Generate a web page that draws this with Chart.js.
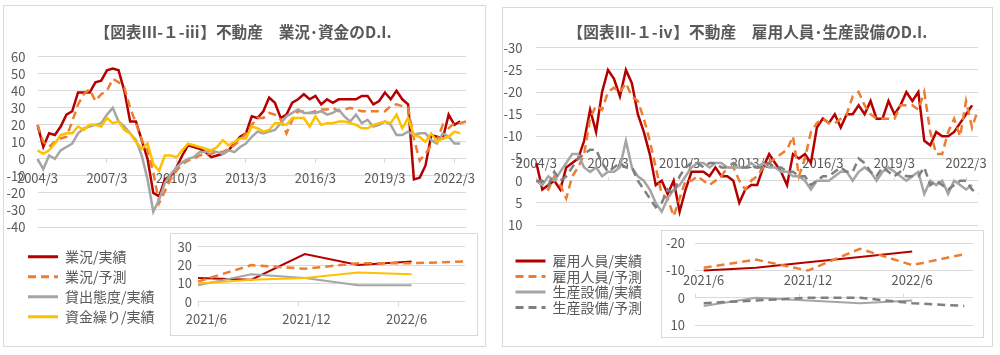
<!DOCTYPE html>
<html>
<head>
<meta charset="utf-8">
<script src="https://cdn.jsdelivr.net/npm/chart.js@4/dist/chart.umd.min.js"></script>
<style>
  html,body{margin:0;padding:0;background:#fff;}
  body{width:1000px;height:355px;position:relative;overflow:hidden;}
  .panel{position:absolute;border:1px solid #d9d9d9;background:#fff;box-sizing:border-box;}
  .frame{position:absolute;border:1px solid #d9d9d9;background:#fff;box-sizing:border-box;z-index:2;}
  canvas{position:absolute;display:block;}
  .main{z-index:1;}
  .inset{z-index:3;}
</style>
</head>
<body>
<div class="panel" style="left:3px;top:5px;width:483px;height:342px;"></div>
<div class="panel" style="left:502px;top:7px;width:491px;height:340px;"></div>

<canvas id="mainL" class="main" width="486" height="248" style="left:0;top:0;width:486px;height:248px;"></canvas>
<canvas id="mainR" class="main" width="495" height="248" style="left:500px;top:0;width:495px;height:248px;"></canvas>

<div class="frame" style="left:170px;top:233px;width:308px;height:103px;"></div>
<div class="frame" style="left:661px;top:230px;width:323px;height:108px;"></div>

<canvas id="insetL" class="inset" width="456" height="103" style="left:22px;top:233px;width:456px;height:103px;"></canvas>
<canvas id="insetR" class="inset" width="470" height="118" style="left:514px;top:225px;width:470px;height:118px;"></canvas>

<script>
// ---------- categories ----------
const quarters = [
  '2004/3','2004/6','2004/9','2004/12','2005/3','2005/6','2005/9','2005/12',
  '2006/3','2006/6','2006/9','2006/12','2007/3','2007/6','2007/9','2007/12',
  '2008/3','2008/6','2008/9','2008/12','2009/3','2009/6','2009/9','2009/12',
  '2010/3','2010/6','2010/9','2010/12','2011/3','2011/6','2011/9','2011/12',
  '2012/3','2012/6','2012/9','2012/12','2013/3','2013/6','2013/9','2013/12',
  '2014/3','2014/6','2014/9','2014/12','2015/3','2015/6','2015/9','2015/12',
  '2016/3','2016/6','2016/9','2016/12','2017/3','2017/6','2017/9','2017/12',
  '2018/3','2018/6','2018/9','2018/12','2019/3','2019/6','2019/9','2019/12',
  '2020/3','2020/6','2020/9','2020/12','2021/3','2021/6','2021/9','2021/12',
  '2022/3','2022/6','2022/9'
];
const insetMonths = ['2021/6','2021/7','2021/8','2021/9','2021/10','2021/11','2021/12',
  '2022/1','2022/2','2022/3','2022/4','2022/5','2022/6','2022/7','2022/8','2022/9'];
const insetQuarters = ['2021/6','2021/9','2021/12','2022/3','2022/6','2022/9'];

// ---------- left chart: 業況・資金 ----------
const gyokyoJisseki = [
  20, 7, 15, 14, 19, 26, 28, 39, 39, 39,
  45, 46, 52, 53, 52, 40, 22, 22, 11, 0,
  -20, -22, -12, -10, -5, 2, 8, 7, 6, 4,
  1, 2, 3, 5, 9, 13, 15, 25, 24, 28,
  36, 33, 24, 26, 33, 35, 38, 35, 37, 32,
  35, 33, 35, 35, 35, 35, 37, 37, 32, 34,
  39, 35, 40, 35, 32, -12, -11, -4, 14, 13,
  12, 26, 20, 22
];
const gyokyoYosoku = [
  20, 10, 7, 10, 12, 13, 22, 32, 38, 41,
  34, 38, 40, 47, 45, 42, 30, 21, 11, 5,
  -8, -26, -19, -12, -7, -3, -1, 0, 2, 3,
  3, 4, 4, 6, 8, 11, 15, 20, 24, 24,
  27, 26, 23, 15, 23, 28, 28, 27, 28, 29,
  29, 30, 28, 29, 30, 29, 28, 28, 28, 28,
  28, 31, 32, 31, 30, 12, -1, 3, 8, 11,
  20, 18, 21, 21, 22
];
const kashidashi = [
  0, -6, 2, 0, 5, 7, 9, 15, 18, 19,
  20, 21, 26, 30, 22, 19, 15, 11, 2, -12,
  -31, -24, -14, -9, -5, -2, 0, 1, 4, 4,
  5, 4, 3, 5, 4, 7, 9, 13, 16, 15,
  16, 17, 21, 25, 27, 29, 27, 27, 27, 28,
  26, 27, 29, 25, 22, 26, 21, 23, 19, 20,
  22, 20, 14, 14, 16, 14, 15, 15, 11, 9,
  15, 13, 9, 9
];
const shikinguri = [
  5, 3, 5, 9, 14, 15, 15, 19, 17, 20,
  20, 19, 24, 21, 22, 17, 15, 10, 6, 9,
  -3, -7, 2, 2, 1, 5, 9, 8, 7, 6,
  5, 7, 11, 8, 10, 12, 12, 19, 18, 16,
  17, 21, 21, 20, 24, 24, 24, 19, 25, 20,
  21, 21, 22, 22, 21, 20, 18, 18, 20, 21,
  22, 21, 26, 18, 24, 14, 13, 10, 15, 10,
  12, 13, 16, 15
];
const insetGyokyoJisseki = [13, 12, 26, 20, 22];
const insetGyokyoYosoku  = [11, 20, 18, 21, 21, 22];
const insetKashidashi    = [9, 15, 13, 9, 9];
const insetShikinguri    = [10, 12, 13, 16, 15];

// ---------- right chart: 雇用人員・生産設備 ----------
const koyoJisseki = [
  -4, 2, 1, 0, 2, -3, -4, -5, -9, -16,
  -11, -20, -25, -23, -19, -25, -22, -15, -11, -6,
  1, 0, 3, 0, 7, 2, -2, -2, -2, -1,
  -3, -1, -1, 0, 5, 2, 1, 1, -3, -6,
  -4, -2, 1, -6, -5, -6, -4, -12, -14, -13,
  -15, -12, -15, -15, -17, -15, -18, -14, -14, -18,
  -15, -17, -20, -18, -20, -9, -8, -11, -10, -10,
  -11, -13, -15, -17
];
const koyoYosoku = [
  0, 1, 2, -1, 1, 4, -1, -3, -6, -14,
  -17, -16, -20, -21, -20, -22, -19, -18, -14, -9,
  -3, 3, 4, 8, 4, 0, 0, -1, 0, 1,
  0, -1, -3, -3, 0, 2, 0, -1, -3, -4,
  -5, -6, -7, -10, -1, -5, -11, -13, -14, -13,
  -13, -14, -15, -19, -20, -17, -15, -14, -14, -14,
  -14, -17, -17, -17, -16, -20, -11, -6, -6, -11,
  -14, -10, -18, -12, -16
];
const setsubiJisseki = [
  0, 1, -1, 0, -2, -4, -6, -6, -3, -2,
  -3, -1, -2, -2, -3, -9, -3, -1, 0, 2,
  5, 7, 4, 2, 1, -1, -3, -4, -4, -3,
  -4, -4, -3, -3, -3, -3, -4, -3, -4, -3,
  -3, -2, -2, -1, -1, 0, 2, 0, 0, 0,
  -1, -2, -2, 0, -2, -3, -2, 0, -2, -3,
  -2, -1, 0, -1, -2, 3, 0, 1, 0, 3,
  0, 1, 2, 1
];
const setsubiYosoku = [
  0, 0, 1, -2, 0, -1, -3, -5, -6, -7,
  -7, -4, -2, -3, -4, -3, -3, 0, 2, 4,
  6, 5, 2, 3, -1, -3, -4, -4, -3, -4,
  -4, -3, -3, -4, -3, -3, -3, -3, -3, -4,
  -3, -3, -2, -2, -1, -1, 1, 0, -1, -1,
  -2, -3, -2, -2, -5, -4, -2, -1, -3, -2,
  -1, -2, -1, -1, -1, -3, 1, 0, 1, 2,
  1, 0, 0, 2, 3
];
const insetKoyoJisseki    = [-10, -11, -13, -15, -17];
const insetKoyoYosoku     = [-11, -14, -10, -18, -12, -16];
const insetSetsubiJisseki = [3, 0, 1, 2, 1];
const insetSetsubiYosoku  = [2, 1, 0, 0, 2, 3];

// ---------- styling ----------
Chart.defaults.font.family = "'Noto Sans CJK JP','Noto Sans',sans-serif";
Chart.defaults.font.size = 13;
Chart.defaults.color = '#595959';
const GRID = '#d9d9d9';
const NONE = 'rgba(0,0,0,0)';
const RED = '#b50000', ORANGE = '#ed7d31', GRAY = '#a5a5a5', GOLD = '#ffc000', DGRAY = '#7f7f7f';
const DASH = [8, 5];

function line(label, data, color, dashed, width, order) {
  return {
    label, data, borderColor: color, backgroundColor: color,
    borderDash: dashed ? DASH : [], borderWidth: width,
    pointRadius: 0, pointHoverRadius: 0, tension: 0, fill: false,
    spanGaps: true, order
  };
}
function pts(values) {
  return values.map((v, i) => ({ x: insetQuarters[i], y: v }));
}
const baseOpts = { responsive: false, animation: false, devicePixelRatio: 1, events: [] };

// let the side legend take the width it needs instead of a quarter of the canvas
const legendRoom = {
  id: 'legendRoom',
  beforeLayout(chart) {
    const lg = chart.legend;
    if (lg && !lg.__roomy) {
      const orig = lg.update;
      lg.update = function (maxWidth, maxHeight, margins) {
        return orig.call(this, Math.max(maxWidth, 220), maxHeight, margins);
      };
      lg.__roomy = true;
    }
  }
};
function legendOpts(pad) {
  return {
    display: true, position: 'left', align: 'center',
    labels: {
      boxWidth: 30, boxHeight: 0, padding: pad,
      font: { size: 14 }, color: '#595959',
      sort: (a, b) => a.datasetIndex - b.datasetIndex,
      generateLabels: chart => Chart.defaults.plugins.legend.labels.generateLabels(chart)
        .map(l => Object.assign(l, { lineWidth: 3, fillStyle: NONE }))
    }
  };
}
function titleOpts(text, bottom) {
  return {
    display: true, text, font: { size: 15.7, weight: 'bold' }, color: '#595959',
    padding: { top: 23, bottom }
  };
}
// empty right-hand box: keeps the plot narrower than the centred title
function spacer(w) {
  return {
    position: 'right', display: true,
    grid: { display: false }, ticks: { display: false }, border: { display: false },
    afterFit: s => { s.width = w; }
  };
}

// ---------- left main ----------
new Chart(document.getElementById('mainL'), {
  type: 'line',
  data: {
    labels: quarters,
    datasets: [
      line('業況/実績', gyokyoJisseki, RED, false, 2.5, 4),
      line('業況/予測', gyokyoYosoku, ORANGE, true, 2.5, 3),
      line('貸出態度/実績', kashidashi, GRAY, false, 2.5, 2),
      line('資金繰り/実績', shikinguri, GOLD, false, 2.5, 1)
    ]
  },
  options: Object.assign({}, baseOpts, {
    layout: { padding: { left: 0, right: 0, top: 0, bottom: 21 } },
    plugins: {
      legend: { display: false }, tooltip: { enabled: false },
      title: titleOpts('【図表Ⅲ-１-ⅲ】不動産　業況･資金のD.I.', 14.9)
    },
    scales: {
      x: {
        position: { y: 0 }, offset: false,
        grid: { display: true, drawOnChartArea: false, drawTicks: true, tickLength: 4,
                color: c => (c.index % 12 === 0 ? GRID : NONE) },
        border: { display: false },
        ticks: { autoSkip: false, maxRotation: 0, padding: 7,
                 callback: (v, i) => (i % 12 === 0 ? quarters[i] : '') }
      },
      y: {
        min: -40, max: 60,
        ticks: { stepSize: 10, padding: 12, autoSkip: false },
        grid: { color: GRID, drawTicks: false },
        border: { display: false },
        afterFit: s => { s.width = 37.5; }
      },
      yPad: spacer(20)
    }
  })
});

// ---------- right main ----------
new Chart(document.getElementById('mainR'), {
  type: 'line',
  data: {
    labels: quarters,
    datasets: [
      line('雇用人員/実績', koyoJisseki, RED, false, 2.5, 4),
      line('雇用人員/予測', koyoYosoku, ORANGE, true, 2.5, 3),
      line('生産設備/実績', setsubiJisseki, GRAY, false, 2.5, 2),
      line('生産設備/予測', setsubiYosoku, DGRAY, true, 2.5, 1)
    ]
  },
  options: Object.assign({}, baseOpts, {
    layout: { padding: { left: 0, right: 0, top: 0, bottom: 23 } },
    plugins: {
      legend: { display: false }, tooltip: { enabled: false },
      title: titleOpts('【図表Ⅲ-１-ⅳ】不動産　雇用人員･生産設備のD.I.', 5.9)
    },
    scales: {
      x: {
        position: { y: 0 }, offset: false,
        grid: { display: true, drawOnChartArea: false, drawTicks: true, tickLength: -4,
                color: c => (c.index % 12 === 0 ? GRID : NONE) },
        border: { display: false },
        ticks: { autoSkip: false, maxRotation: 0, padding: -21.8,
                 callback: (v, i) => (i % 12 === 0 ? quarters[i] : '') }
      },
      y: {
        min: -30, max: 10, reverse: true,
        ticks: { stepSize: 5, padding: 14, autoSkip: false },
        grid: { color: GRID, drawTicks: false },
        border: { display: false },
        afterFit: s => { s.width = 36.4; }
      },
      yPad: spacer(17)
    }
  })
});

// ---------- left inset ----------
new Chart(document.getElementById('insetL'), {
  type: 'line',
  data: {
    labels: insetMonths,
    datasets: [
      line('業況/実績', pts(insetGyokyoJisseki), RED, false, 2, 4),
      line('業況/予測', pts(insetGyokyoYosoku), ORANGE, true, 2.5, 3),
      line('貸出態度/実績', pts(insetKashidashi), GRAY, false, 2, 2),
      line('資金繰り/実績', pts(insetShikinguri), GOLD, false, 2, 1)
    ]
  },
  plugins: [legendRoom],
  options: Object.assign({}, baseOpts, {
    layout: { padding: { left: 0, right: 13, top: 7.7, bottom: 3.3 } },
    plugins: { legend: legendOpts(6), tooltip: { enabled: false } },
    scales: {
      xTop: {
        type: 'category', position: 'top', display: true,
        grid: { display: false }, ticks: { display: false }, border: { display: false },
        afterFit: s => { s.height = 6; }
      },
      x: {
        type: 'category', position: 'bottom', offset: true,
        grid: { display: true, drawOnChartArea: false, offset: true, tickLength: 5,
                color: c => (c.index % 6 === 0 && c.index < insetMonths.length ? GRID : NONE) },
        border: { display: false },
        ticks: { autoSkip: false, maxRotation: 0, padding: 4.8,
                 callback: (v, i) => (i % 6 === 0 ? insetMonths[i] : '') },
        afterFit: s => { s.height = 31; }
      },
      y: {
        min: 0, max: 30,
        ticks: { stepSize: 10, padding: 6, autoSkip: false },
        grid: { color: GRID, drawTicks: false },
        border: { display: false },
        afterFit: s => { s.width = 176 - s.chart.legend.width; }
      }
    }
  })
});

// ---------- right inset ----------
new Chart(document.getElementById('insetR'), {
  type: 'line',
  data: {
    labels: insetMonths,
    datasets: [
      line('雇用人員/実績', pts(insetKoyoJisseki), RED, false, 2, 4),
      line('雇用人員/予測', pts(insetKoyoYosoku), ORANGE, true, 2.5, 3),
      line('生産設備/実績', pts(insetSetsubiJisseki), GRAY, false, 2, 2),
      line('生産設備/予測', pts(insetSetsubiYosoku), DGRAY, true, 2.5, 1)
    ]
  },
  plugins: [legendRoom],
  options: Object.assign({}, baseOpts, {
    layout: { padding: { left: 0, right: 11, top: 18.3, bottom: 18 } },
    plugins: { legend: legendOpts(1.5), tooltip: { enabled: false } },
    scales: {
      x: {
        type: 'category', position: { y: 0 }, offset: true,
        grid: { display: true, drawOnChartArea: false, offset: true, tickLength: -4,
                color: c => (c.index % 6 === 0 && c.index < insetMonths.length ? GRID : NONE) },
        border: { display: false },
        ticks: { autoSkip: false, maxRotation: 0, padding: -21.1,
                 callback: (v, i) => (i % 6 === 0 ? insetMonths[i] : '') }
      },
      y: {
        min: -20, max: 10, reverse: true,
        ticks: { stepSize: 10, padding: 10, autoSkip: false },
        grid: { color: GRID, drawTicks: false },
        border: { display: false },
        afterFit: s => { s.width = 181 - s.chart.legend.width; }
      }
    }
  })
});
</script>
</body>
</html>
